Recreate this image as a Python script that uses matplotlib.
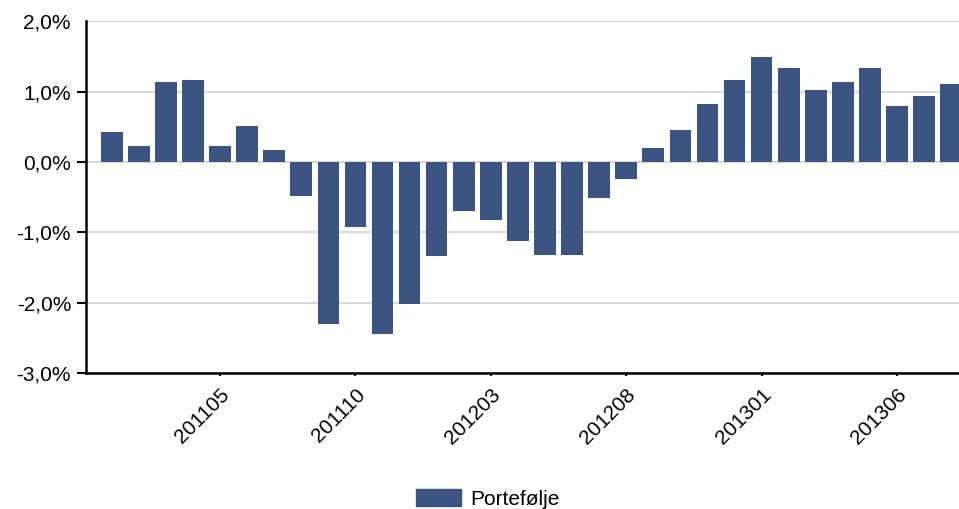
import matplotlib
matplotlib.use("Agg")
import matplotlib.pyplot as plt
from matplotlib.ticker import FuncFormatter
from matplotlib.patches import Patch

plt.rcParams['font.family'] = ['Liberation Sans', 'DejaVu Sans']

months = [f"{y}{m:02d}" for y in (2011, 2012, 2013) for m in range(1, 13)][:32]
values = [0.43, 0.23, 1.14, 1.17, 0.23, 0.51, 0.17, -0.48, -2.30, -0.93,
          -2.44, -2.02, -1.34, -0.70, -0.82, -1.12, -1.32, -1.32, -0.51, -0.24,
          0.20, 0.45, 0.82, 1.17, 1.50, 1.34, 1.02, 1.14, 1.34, 0.80, 0.94, 1.11]
shown_ticks = ["201105", "201110", "201203", "201208", "201301", "201306"]
series_name = "Portefølje"
color = "#3b5580"

fig = plt.figure(figsize=(9.59, 5.09), dpi=100)
ax = fig.add_axes([86/959, 1-373/509, 1-86/959, (373-21.4)/509])

x = list(range(len(months)))
ax.bar(x, values, width=0.8, color=color, zorder=3)

ax.set_xlim(-0.95, 31.29)
ax.set_ylim(-3.0, 2.0)
ax.set_yticks([-3, -2, -1, 0, 1, 2])
ax.yaxis.set_major_formatter(FuncFormatter(lambda v, p: f"{v:.1f}%".replace(".", ",")))
ax.grid(axis='y', color='#d9d9d9', linewidth=1.5, zorder=0)

tick_pos = [months.index(t) for t in shown_ticks]
ax.set_xticks(tick_pos)
ax.set_xticklabels(shown_ticks, rotation=45, ha='right', rotation_mode='anchor')

for s in ['top', 'right']:
    ax.spines[s].set_visible(False)
for s in ['left', 'bottom']:
    ax.spines[s].set_linewidth(1.8)
    ax.spines[s].set_color('black')
    ax.spines[s].set_zorder(4)
ax.tick_params(axis='y', length=6.5, width=1.5, pad=4.3, labelsize=15, colors='black')
ax.tick_params(axis='x', length=2.5, width=1.5, pad=6, labelsize=15, colors='black')
ax.yaxis.get_major_ticks()[-1].tick1line.set_visible(False)

fig.legend(handles=[Patch(color=color, label=series_name)], loc='center',
           bbox_to_anchor=(488/959, 1-499/509), frameon=False, fontsize=15,
           handlelength=2.16, handleheight=0.87, handletextpad=0.43,
           borderpad=0, borderaxespad=0)

fig.savefig("out.png", dpi=100)
